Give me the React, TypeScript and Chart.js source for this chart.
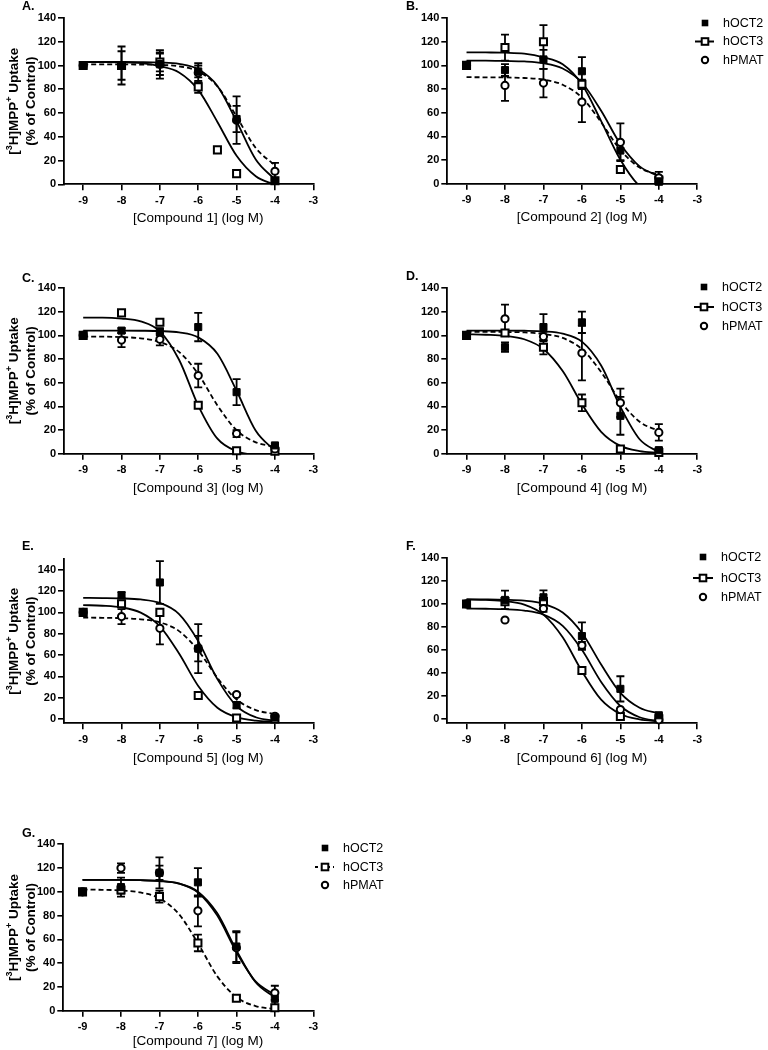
import { useEffect, useRef } from 'react';
import { Chart, registerables } from 'chart.js';

Chart.register(...registerables);

const FONT = "'Liberation Sans', Arial, Helvetica, sans-serif";

// ---- shared axes / labels ----
const X_TICKS = [-9, -8, -7, -6, -5, -4, -3];
const Y_TICKS = [0, 20, 40, 60, 80, 100, 120, 140];
const LOG_DOSE = [-9, -8, -7, -6, -5, -4];
const LOG_DOSE_A_OCT3 = [-9, -8, -7, -6, -5.5, -5, -4];
const FIT_X = [-9, -8.5, -8, -7.5, -7, -6.5, -6, -5.5, -5, -4.5, -4];
const SERIES_NAMES = ['hOCT2', 'hOCT3', 'hPMAT'];
const COMPOUNDS = ['Compound 1', 'Compound 2', 'Compound 3', 'Compound 4', 'Compound 5', 'Compound 6', 'Compound 7'];
const LETTERS = ['A.', 'B.', 'C.', 'D.', 'E.', 'F.', 'G.'];

// ---- Panel A ----
const A_OCT2_MEAN = [100, 100, 101, 95, 55, 3];
const A_OCT2_SEM = [0, 12, 9, 5, 11, 2];
const A_OCT2_FIT = [103, 103, 103, 102.9, 102.5, 101.3, 96.8, 82.8, 53, 20.9, 4];
const A_OCT3_MEAN = [100, 100, 103, 82, 29, 9, 3];
const A_OCT3_SEM = [0, 3, 8, 5, 0, 0, 0];
const A_OCT3_FIT = [103, 102.9, 102.7, 102, 99.4, 94.2, 79.5, 52.5, 24, 6.8, -0.4];
const A_PMAT_MEAN = [100, 100, 101, 94, 54, 11];
const A_PMAT_SEM = [0, 16, 12, 8, 20, 7];
const A_PMAT_FIT = [101, 101, 101, 100.8, 100.5, 99.3, 95, 82.5, 57, 30.5, 16];

// ---- Panel B ----
const B_OCT2_MEAN = [100, 96, 105, 95, 28, 2];
const B_OCT2_SEM = [0, 5, 8, 12, 8, 3];
const B_OCT2_FIT = [104, 104, 103.7, 103.3, 101.8, 97.3, 85.3, 61.7, 33.5, 14.6, 6.4];
const B_OCT3_MEAN = [100, 115, 120, 84, 12, 3];
const B_OCT3_SEM = [0, 11, 14, 4, 3, 2];
const B_OCT3_FIT = [111, 110.9, 110.7, 109.9, 106.8, 100.9, 84, 52.9, 20.2, -1.9, -7.8];
const B_PMAT_MEAN = [100, 83, 85, 69, 35, 5];
const B_PMAT_SEM = [0, 13, 12, 17, 16, 5];
const B_PMAT_FIT = [90, 89.9, 89.8, 89.3, 87.9, 83.6, 72.7, 51.9, 28.5, 13.6, 7.3];

// ---- Panel C ----
const C_OCT2_MEAN = [100, 104, 103, 107, 52, 7];
const C_OCT2_SEM = [0, 2, 3, 12, 11, 1];
const C_OCT2_FIT = [104, 104, 104, 103.9, 103.6, 102.5, 98.3, 84.4, 53.2, 19.4, 2.4];
const C_OCT3_MEAN = [100, 119, 111, 41, 2.5, 2];
const C_OCT3_SEM = [0, 0, 0, 2, 0, 0];
const C_OCT3_FIT = [115, 115, 114.2, 111.8, 103.4, 79.4, 40.7, 12.7, 2.1, -0.9, -1.7];
const C_PMAT_MEAN = [100, 96, 96.6, 66, 17, 4];
const C_PMAT_SEM = [0, 6, 5, 10, 3, 1];
const C_PMAT_FIT = [99, 98.9, 98.5, 97.5, 94.4, 86, 67.3, 40.8, 19.8, 9.6, 5.9];

// ---- Panel D ----
const D_OCT2_MEAN = [100, 90, 107, 111, 32, 3];
const D_OCT2_SEM = [0, 4, 11, 9, 16, 2];
const D_OCT2_FIT = [104, 104, 104, 103.9, 103.4, 101.5, 94.7, 74.5, 39.6, 12.2, 1.3];
const D_OCT3_MEAN = [100, 102, 90, 43, 4, 1];
const D_OCT3_SEM = [0, 2, 6, 7, 1, 0];
const D_OCT3_FIT = [101, 100.5, 99.6, 96.7, 88.5, 69.8, 41.9, 18.5, 6.6, 2.2, 0.7];
const D_PMAT_MEAN = [100, 114, 99, 85, 43, 18];
const D_PMAT_SEM = [0, 12, 4, 23, 12, 7];
const D_PMAT_FIT = [103, 103, 102.8, 102.5, 101.2, 97.8, 88.4, 69, 44.4, 27, 19.2];

// ---- Panel E ----
const E_OCT2_MEAN = [100, 116, 128, 66, 13, 1.5];
const E_OCT2_SEM = [0, 3, 20, 23, 3, 1];
const E_OCT2_FIT = [113.5, 113.4, 113.1, 112.1, 108.8, 98.4, 73, 37.4, 12.2, 1.7, -1.6];
const E_OCT3_MEAN = [100, 108, 100, 22, 1, 0];
const E_OCT3_SEM = [0, 2, 2, 2, 0, 0];
const E_OCT3_FIT = [106.8, 106.2, 104.6, 99.7, 86.9, 61.4, 31, 10.6, 1.7, -1.5, -2.5];
const E_PMAT_MEAN = [100, 96, 85, 66, 23, 2.5];
const E_PMAT_SEM = [0, 7, 15, 12, 1, 1];
const E_PMAT_FIT = [95, 94.9, 94.5, 93.5, 90.6, 82.4, 64.3, 38.6, 18.3, 8.4, 4.8];

// ---- Panel F ----
const F_OCT2_MEAN = [100, 103.5, 105.8, 72, 26, 3];
const F_OCT2_SEM = [0, 8, 6, 12, 11, 1];
const F_OCT2_FIT = [104, 103.9, 103.6, 102.8, 100.1, 92.6, 74.9, 47.2, 22.5, 9.5, 4.5];
const F_OCT3_MEAN = [100, 102, 102, 42, 2, 0];
const F_OCT3_SEM = [0, 2, 2, 2, 0, 0];
const F_OCT3_FIT = [103.9, 103.5, 102.5, 99.4, 90.7, 70.9, 41.4, 16.6, 4.1, -0.6, -2.3];
const F_PMAT_MEAN = [100, 86, 96, 64, 8, -1];
const F_PMAT_SEM = [0, 0, 3, 3, 0, 0];
const F_PMAT_FIT = [96, 95.8, 95.4, 94.2, 90.7, 80.9, 60, 32, 11.1, 1.3, -2.2];

// ---- Panel G ----
const G_OCT2_MEAN = [100, 104, 116, 108, 54, 10];
const G_OCT2_SEM = [0, 8, 13, 12, 13, 5];
const G_OCT2_FIT = [110, 110, 110, 109.8, 109.2, 107.1, 100.2, 82.1, 50.9, 23.9, 11.1];
const G_OCT3_MEAN = [100, 101.6, 96, 57, 10.4, 2.5];
const G_OCT3_SEM = [0, 3, 5, 7, 2, 1];
const G_OCT3_FIT = [101.9, 101.7, 101.2, 99.5, 94.5, 81.5, 56.8, 29.1, 11.4, 3.9, 1.3];
const G_PMAT_MEAN = [100, 120, 116, 84, 53, 15];
const G_PMAT_SEM = [0, 4, 6, 13, 13, 6];
const G_PMAT_FIT = [110, 110, 110, 109.8, 109.1, 107, 99.4, 80.2, 49.4, 24.6, 13.3];

type Series = { x: number[]; mean: number[]; sem: number[]; fit: number[]; dashed: boolean };
type Geom = {
  cl: number; ct: number; cw: number; ch: number;
  axisX: number; right: number; top: number; bottom: number;
  yMin: number; yMax: number;
  letterX: number; letterY: number; xTitleDy: number;
  yTitle: boolean;
  legend: null | { mx: number; tx: number; ys: number[]; lineX0: number; lineX1: number };
};

const mk = (x: number[], mean: number[], sem: number[], fit: number[], dashed: boolean): Series => ({ x, mean, sem, fit, dashed });

const PANEL_SERIES: Series[][] = [
  [mk(LOG_DOSE, A_OCT2_MEAN, A_OCT2_SEM, A_OCT2_FIT, false), mk(LOG_DOSE_A_OCT3, A_OCT3_MEAN, A_OCT3_SEM, A_OCT3_FIT, false), mk(LOG_DOSE, A_PMAT_MEAN, A_PMAT_SEM, A_PMAT_FIT, true)],
  [mk(LOG_DOSE, B_OCT2_MEAN, B_OCT2_SEM, B_OCT2_FIT, false), mk(LOG_DOSE, B_OCT3_MEAN, B_OCT3_SEM, B_OCT3_FIT, false), mk(LOG_DOSE, B_PMAT_MEAN, B_PMAT_SEM, B_PMAT_FIT, true)],
  [mk(LOG_DOSE, C_OCT2_MEAN, C_OCT2_SEM, C_OCT2_FIT, false), mk(LOG_DOSE, C_OCT3_MEAN, C_OCT3_SEM, C_OCT3_FIT, false), mk(LOG_DOSE, C_PMAT_MEAN, C_PMAT_SEM, C_PMAT_FIT, true)],
  [mk(LOG_DOSE, D_OCT2_MEAN, D_OCT2_SEM, D_OCT2_FIT, false), mk(LOG_DOSE, D_OCT3_MEAN, D_OCT3_SEM, D_OCT3_FIT, false), mk(LOG_DOSE, D_PMAT_MEAN, D_PMAT_SEM, D_PMAT_FIT, true)],
  [mk(LOG_DOSE, E_OCT2_MEAN, E_OCT2_SEM, E_OCT2_FIT, false), mk(LOG_DOSE, E_OCT3_MEAN, E_OCT3_SEM, E_OCT3_FIT, false), mk(LOG_DOSE, E_PMAT_MEAN, E_PMAT_SEM, E_PMAT_FIT, true)],
  [mk(LOG_DOSE, F_OCT2_MEAN, F_OCT2_SEM, F_OCT2_FIT, false), mk(LOG_DOSE, F_OCT3_MEAN, F_OCT3_SEM, F_OCT3_FIT, false), mk(LOG_DOSE, F_PMAT_MEAN, F_PMAT_SEM, F_PMAT_FIT, false)],
  [mk(LOG_DOSE, G_OCT2_MEAN, G_OCT2_SEM, G_OCT2_FIT, false), mk(LOG_DOSE, G_OCT3_MEAN, G_OCT3_SEM, G_OCT3_FIT, true), mk(LOG_DOSE, G_PMAT_MEAN, G_PMAT_SEM, G_PMAT_FIT, false)],
];

const GEOMS: Geom[] = [
  { cl: 0, ct: 0, cw: 384, ch: 262, axisX: 64, right: 313.3, top: 18, bottom: 184.3, yMin: 0, yMax: 140, letterX: 22, letterY: 10, xTitleDy: 34, yTitle: true, legend: null },
  { cl: 384, ct: 0, cw: 384, ch: 262, axisX: 447.3, right: 697.3, top: 18, bottom: 183.7, yMin: 0, yMax: 140, letterX: 406, letterY: 10, xTitleDy: 34, yTitle: false, legend: { mx: 705, tx: 723, ys: [23, 41.5, 60], lineX0: 695, lineX1: 714 } },
  { cl: 0, ct: 262, cw: 384, ch: 270, axisX: 64, right: 313.3, top: 288, bottom: 453.7, yMin: 0, yMax: 140, letterX: 22, letterY: 282, xTitleDy: 34.5, yTitle: true, legend: null },
  { cl: 384, ct: 262, cw: 384, ch: 270, axisX: 447.3, right: 697.3, top: 288, bottom: 453.7, yMin: 0, yMax: 140, letterX: 406, letterY: 280, xTitleDy: 34.5, yTitle: false, legend: { mx: 704, tx: 722, ys: [287, 307, 326], lineX0: 694, lineX1: 714 } },
  { cl: 0, ct: 532, cw: 384, ch: 268, axisX: 64, right: 313.3, top: 559, bottom: 723.3, yMin: -4, yMax: 150, letterX: 22, letterY: 550, xTitleDy: 35, yTitle: true, legend: null },
  { cl: 384, ct: 532, cw: 384, ch: 268, axisX: 447.3, right: 697.3, top: 558, bottom: 723.3, yMin: -4, yMax: 140, letterX: 406, letterY: 550, xTitleDy: 35, yTitle: false, legend: { mx: 703, tx: 721, ys: [557, 578, 597], lineX0: 693, lineX1: 713 } },
  { cl: 0, ct: 800, cw: 450, ch: 250, axisX: 63.3, right: 313.3, top: 844.3, bottom: 1010.7, yMin: 0, yMax: 140, letterX: 22, letterY: 837, xTitleDy: 31, yTitle: true, legend: { mx: 325, tx: 343, ys: [848, 867, 885], lineX0: 315, lineX1: 334 } },
];

function drawRich(ctx: CanvasRenderingContext2D, segs: { t: string; sup?: boolean }[], cx: number, cy: number) {
  const base = `bold 13.5px ${FONT}`;
  const sup = `bold 9px ${FONT}`;
  let w = 0;
  segs.forEach((s) => { ctx.font = s.sup ? sup : base; w += ctx.measureText(s.t).width; });
  let xx = cx - w / 2;
  segs.forEach((s) => {
    ctx.font = s.sup ? sup : base;
    ctx.fillText(s.t, xx, s.sup ? cy - 4.5 : cy);
    xx += ctx.measureText(s.t).width;
  });
}

function drawMarker(ctx: CanvasRenderingContext2D, kind: number, x: number, y: number) {
  ctx.lineWidth = 2;
  ctx.strokeStyle = '#000';
  if (kind === 0) {
    ctx.fillStyle = '#000';
    ctx.fillRect(x - 3.3, y - 3.3, 6.6, 6.6);
  } else if (kind === 1) {
    ctx.fillStyle = '#fff';
    ctx.fillRect(x - 3.3, y - 3.3, 6.6, 6.6);
    ctx.strokeRect(x - 3.3, y - 3.3, 6.6, 6.6);
  } else {
    ctx.fillStyle = '#fff';
    ctx.beginPath();
    ctx.arc(x, y, 3.2, 0, Math.PI * 2);
    ctx.fill();
    ctx.stroke();
  }
}

function makeDeco(idx: number) {
  const g = GEOMS[idx];
  const series = PANEL_SERIES[idx];
  return {
    id: 'deco' + idx,
    beforeDatasetsDraw(chart: any) {
      const { ctx, scales } = chart;
      const xs = scales.x;
      const ys = scales.y;
      ctx.save();
      ctx.strokeStyle = '#000';
      ctx.lineWidth = 1.8;
      series.forEach((s) => {
        s.x.forEach((xv, i) => {
          const e = s.sem[i];
          if (!e) return;
          const px = xs.getPixelForValue(xv);
          const pt = ys.getPixelForValue(s.mean[i] + e);
          const pb = ys.getPixelForValue(s.mean[i] - e);
          ctx.beginPath();
          ctx.moveTo(px, pt); ctx.lineTo(px, pb);
          ctx.moveTo(px - 4, pt); ctx.lineTo(px + 4, pt);
          ctx.moveTo(px - 4, pb); ctx.lineTo(px + 4, pb);
          ctx.stroke();
        });
      });
      ctx.restore();
    },
    afterDraw(chart: any) {
      const { ctx, scales, chartArea } = chart;
      ctx.save();
      ctx.fillStyle = '#000';
      // panel letter
      ctx.font = `bold 12.5px ${FONT}`;
      ctx.textAlign = 'left';
      ctx.textBaseline = 'alphabetic';
      ctx.fillText(LETTERS[idx], g.letterX - g.cl, g.letterY - g.ct);
      // x title
      ctx.font = `13.5px ${FONT}`;
      ctx.textAlign = 'center';
      ctx.textBaseline = 'middle';
      ctx.fillText(`[${COMPOUNDS[idx]}] (log M)`, scales.x.getPixelForValue(-6), chartArea.bottom + g.xTitleDy);
      // y title
      if (g.yTitle) {
        const cy = (chartArea.top + chartArea.bottom) / 2;
        ctx.textAlign = 'left';
        ctx.textBaseline = 'middle';
        ctx.save();
        ctx.translate(14, cy);
        ctx.rotate(-Math.PI / 2);
        drawRich(ctx, [{ t: '[' }, { t: '3', sup: true }, { t: 'H]MPP' }, { t: '+', sup: true }, { t: ' Uptake' }], 0, 0);
        ctx.restore();
        ctx.save();
        ctx.translate(31, cy);
        ctx.rotate(-Math.PI / 2);
        drawRich(ctx, [{ t: '(% of Control)' }], 0, 0);
        ctx.restore();
      }
      // legend
      if (g.legend) {
        const L = g.legend;
        SERIES_NAMES.forEach((name, k) => {
          const y = L.ys[k] - g.ct;
          const mx = L.mx - g.cl;
          if (k === 1) {
            ctx.save();
            ctx.strokeStyle = '#000';
            ctx.lineWidth = 2;
            if (series[1].dashed) ctx.setLineDash([3, 3]);
            ctx.beginPath();
            ctx.moveTo(L.lineX0 - g.cl, y);
            ctx.lineTo(L.lineX1 - g.cl, y);
            ctx.stroke();
            ctx.restore();
          }
          drawMarker(ctx, k, mx, y);
          ctx.fillStyle = '#000';
          ctx.font = `12.5px ${FONT}`;
          ctx.textAlign = 'left';
          ctx.textBaseline = 'middle';
          ctx.fillText(name, L.tx - g.cl, y + 0.5);
        });
      }
      ctx.restore();
    },
  };
}

const POINT_STYLES = [
  { pointStyle: 'rect', radius: 5, bg: '#000', bw: 1 },
  { pointStyle: 'rect', radius: 5, bg: '#fff', bw: 2 },
  { pointStyle: 'circle', radius: 3.6, bg: '#fff', bw: 2 },
];
const POINT_ORDER = [0, 2, 1];

function Panel({ idx }: { idx: number }) {
  const ref = useRef<HTMLCanvasElement | null>(null);
  const g = GEOMS[idx];
  useEffect(() => {
    if (!ref.current) return;
    const series = PANEL_SERIES[idx];
    const datasets: any[] = [];
    series.forEach((s, k) => {
      datasets.push({
        label: SERIES_NAMES[k] + ' fit',
        data: FIT_X.map((x, i) => ({ x, y: s.fit[i] })),
        showLine: true,
        pointRadius: 0,
        borderColor: '#000',
        borderWidth: 1.8,
        borderDash: s.dashed ? [5, 3] : [],
        cubicInterpolationMode: 'monotone',
        fill: false,
        order: 5 + k,
      });
    });
    series.forEach((s, k) => {
      const st = POINT_STYLES[k];
      datasets.push({
        label: SERIES_NAMES[k],
        data: s.x.map((x, i) => ({ x, y: s.mean[i] })),
        showLine: false,
        pointStyle: st.pointStyle,
        pointRadius: st.radius,
        pointBackgroundColor: st.bg,
        pointBorderColor: '#000',
        pointBorderWidth: st.bw,
        clip: false,
        order: POINT_ORDER[k],
      });
    });
    const tickFont = { family: FONT, size: 11, weight: 'bold' as const };
    const chart = new Chart(ref.current, {
      type: 'scatter',
      data: { datasets },
      options: {
        responsive: false,
        animation: false,
        devicePixelRatio: 1,
        layout: { padding: { left: 0, top: g.top - g.ct, right: g.cl + g.cw - g.right, bottom: 0 } },
        plugins: { legend: { display: false }, tooltip: { enabled: false } },
        scales: {
          x: {
            type: 'linear',
            min: -9.5,
            max: -3,
            afterBuildTicks: (s: any) => { s.ticks = X_TICKS.map((v) => ({ value: v })); },
            afterFit: (s: any) => { s.height = g.ct + g.ch - g.bottom; },
            grid: { drawOnChartArea: false, drawTicks: true, tickLength: 6, color: '#000', lineWidth: 1.6 },
            border: { display: true, color: '#000', width: 1.8 },
            ticks: { color: '#000', font: tickFont, padding: 4, maxRotation: 0, autoSkip: false, callback: (v: any) => String(v) },
          },
          y: {
            type: 'linear',
            min: g.yMin,
            max: g.yMax,
            afterBuildTicks: (s: any) => { s.ticks = Y_TICKS.map((v) => ({ value: v })); },
            afterFit: (s: any) => { s.width = g.axisX - g.cl; },
            grid: { drawOnChartArea: false, drawTicks: true, tickLength: 6, color: '#000', lineWidth: 1.6 },
            border: { display: true, color: '#000', width: 1.8 },
            ticks: { color: '#000', font: tickFont, padding: 2, autoSkip: false, callback: (v: any) => String(v) },
          },
        },
      } as any,
      plugins: [makeDeco(idx)],
    });
    return () => chart.destroy();
  }, [idx]);
  return (
    <canvas
      ref={ref}
      width={g.cw}
      height={g.ch}
      style={{ position: 'absolute', left: g.cl, top: g.ct, width: g.cw, height: g.ch }}
    />
  );
}

export default function App() {
  return (
    <div style={{ position: 'absolute', left: 0, top: 0, width: 768, height: 1050, background: '#fff', overflow: 'hidden' }}>
      {GEOMS.map((_, i) => (
        <Panel key={i} idx={i} />
      ))}
    </div>
  );
}
